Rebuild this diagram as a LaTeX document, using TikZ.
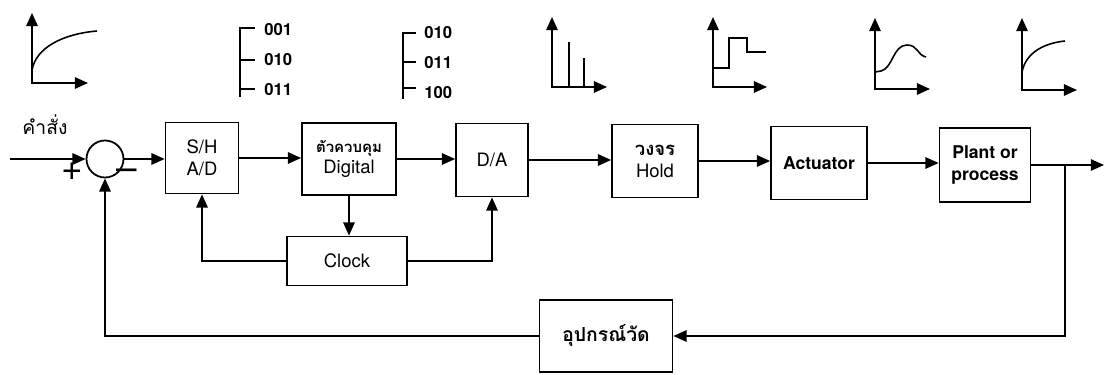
\documentclass[tikz,border=0pt]{standalone}
\usepackage{fontspec}
\setmainfont{TeX Gyre Heros}
\newfontfamily\thaifont[Script=Thai]{Loma}
\usetikzlibrary{arrows.meta}

\begin{document}
\begin{tikzpicture}[x=0.02cm,y=-0.02cm,
        block/.style={draw,line width=1pt,align=center,inner sep=1pt,
            font=\fontsize{10.5}{12.5}\selectfont},
        sumnode/.style={draw,circle,line width=1pt,minimum size=0.74cm,inner sep=0pt},
        sig/.style={line width=0.9pt,-{Triangle[length=7.5pt,width=6.5pt]}},
        axis/.style={line width=1.1pt,
            {Triangle[length=7.5pt,width=6.5pt]}-{Triangle[length=7.5pt,width=6.5pt]}},
        wave/.style={line width=0.9pt},
        codetxt/.style={font=\bfseries\fontsize{9.5}{10}\selectfont,anchor=west,inner sep=0pt}]
    \useasboundingbox (0,0) rectangle (1106,375);

    % blocks of the loop
    \node[sumnode] (sum) at (105,159) {};
    \node[block,minimum width=1.46cm,minimum height=1.42cm] (sh) at (202,158) {S/H\\A/D};
    \node[block,minimum width=1.88cm,minimum height=1.44cm] (dig) at (349,159)
        {{\thaifont\bfseries\fontsize{8.5}{9.5}\selectfont ตัวควบคุม}\\Digital};
    \node[block,minimum width=2.4cm,minimum height=0.98cm] (clk) at (347,261) {Clock};
    \node[block,minimum width=1.44cm,minimum height=1.46cm] (da) at (492,160) {D/A};
    \node[block,minimum width=1.72cm,minimum height=1.46cm] (hold) at (655,161)
        {{\thaifont\bfseries\fontsize{10.5}{11.5}\selectfont วงจร}\\Hold};
    \node[block,minimum width=1.92cm,minimum height=1.46cm,font=\bfseries\fontsize{10}{12}\selectfont]
        (act) at (819,163) {Actuator};
    \node[block,minimum width=1.82cm,minimum height=1.48cm,font=\bfseries\fontsize{10}{12}\selectfont]
        (plant) at (985,165) {Plant or\\process};
    \node[block,minimum width=2.66cm,minimum height=1.44cm] (meas) at (606,336)
        {\thaifont\bfseries\fontsize{11}{12}\selectfont อุปกรณ์วัด};

    \node[font=\thaifont\fontsize{11}{12}\selectfont] (cmd) at (45,125) {คำสั่ง};
    \node[font=\fontsize{21}{21}\selectfont] (plus) at (72,172) {+};
    \node[font=\fontsize{21}{21}\selectfont] (minus) at (127,175) {--};

    \coordinate (in) at (10,159);
    \coordinate (out) at (1104,165);
    \coordinate (branch) at (1065,165);

    % connectors
    \draw[sig] (in) -- (sum.west);
    \draw[sig] (sum.east) -- (sum.east -| sh.west);
    \draw[sig] (sh.east) -- (sh.east -| dig.west);
    \draw[sig] (dig.east) -- (dig.east -| da.west);
    \draw[sig] (da.east) -- (da.east -| hold.west);
    \draw[sig] (hold.east) -- (hold.east -| act.west);
    \draw[sig] (act.east) -- (act.east -| plant.west);
    \draw[sig] (plant.east) -- (out);
    \draw[sig] (dig.south) -- (dig.south |- clk.north);
    \draw[sig] (clk.west) -| (sh.south);
    \draw[sig] (clk.east) -| (da.south);
    \draw[sig] (branch) |- (meas.east);
    \draw[sig] (meas.west) -| (sum.south);

    % signal sketches
    \foreach \ox/\oy/\tp/\rt in {32/83/13/88, 552/87/17/607, 713/87/17/767,
                                 875/89/18/930, 1022/90/18/1077}{
        \draw[axis] (\ox,\tp) -- (\ox,\oy) -- (\rt,\oy);
    }
    \draw[wave] (32,70) .. controls (36,48) and (62,34) .. (97,31);
    \draw[wave] (569,87) -- (569,42);
    \draw[wave] (584,87) -- (584,58);
    \draw[wave] (713,68) -- (729,68) -- (729,38) -- (747,38) -- (747,52) -- (766,52);
    \draw[wave] (875,72) -- (881,71) .. controls (893,68) and (893,45) .. (907,45)
        .. controls (918,45) and (917,55) .. (926,57);
    \draw[wave] (1022,72) .. controls (1026,52) and (1045,43) .. (1065,41);

    % code words
    \draw[wave] (255,28) -- (240,28) -- (240,97);
    \draw[wave] (240,60) -- (255,60);
    \draw[wave] (240,89) -- (255,89);
    \node[codetxt] (ca) at (264,30) {001};
    \node[codetxt] (cb) at (264,60) {010};
    \node[codetxt] (cc) at (264,90) {011};
    \draw[wave] (416,33) -- (403,33) -- (403,99);
    \draw[wave] (403,62) -- (416,62);
    \draw[wave] (403,88) -- (416,88);
    \node[codetxt] (cd) at (424,33) {010};
    \node[codetxt] (ce) at (424,63) {011};
    \node[codetxt] (cf) at (424,93) {100};
\end{tikzpicture}
\end{document}
